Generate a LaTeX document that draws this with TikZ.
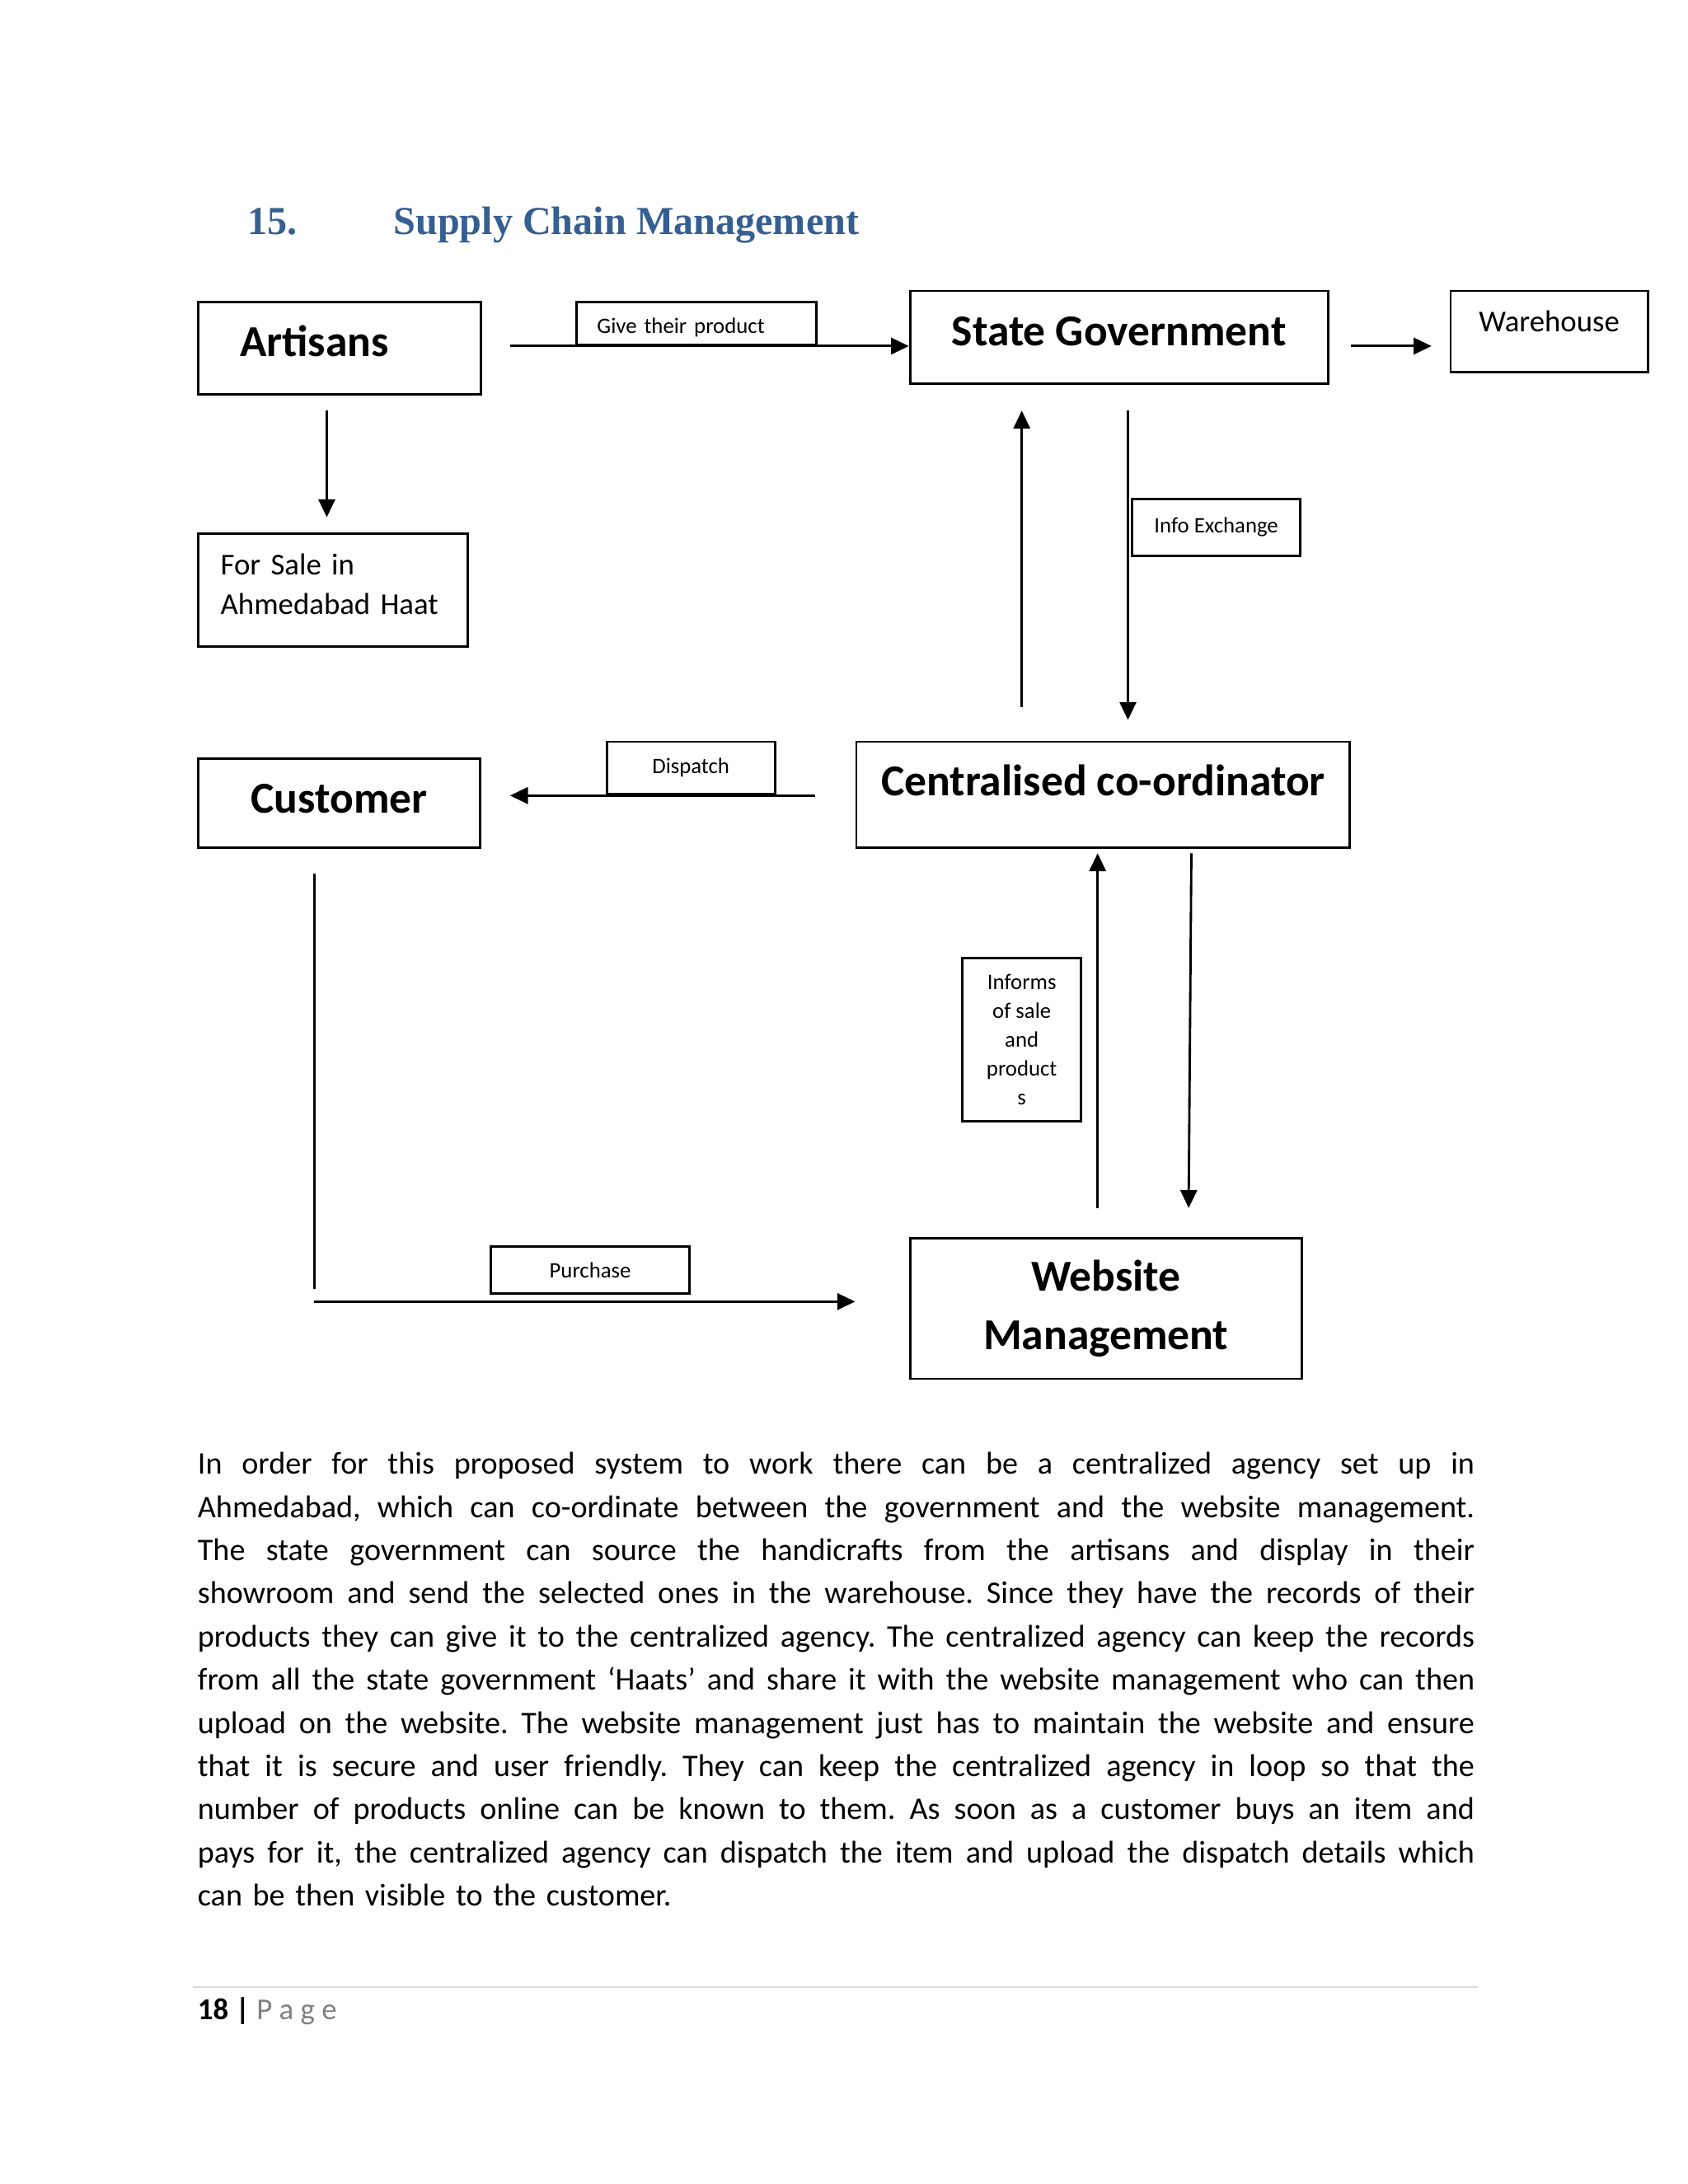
\documentclass[tikz,border=0pt]{standalone}
\usepackage{fontspec}
\usepackage{tikz}
\usetikzlibrary{arrows.meta}
\setmainfont{Carlito}
\newfontfamily\headfont{Liberation Serif}
\definecolor{headblue}{RGB}{54,95,145}
\definecolor{pagegray}{RGB}{127,127,127}
\definecolor{rulegray}{RGB}{217,217,217}
\newcommand{\bigfont}{\fontsize{16}{21}\bfseries\selectfont}
\newcommand{\midfont}{\fontsize{11}{14.5}\selectfont}
\newcommand{\tinyfont}{\fontsize{8}{10.5}\selectfont}
\newcommand{\jline}[1]{{\spaceskip=\fontdimen2\font plus 1fil\xspaceskip=\spaceskip\makebox[463pt][s]{#1}}}
\tikzset{
  box/.style={draw, line width=0.85pt, inner sep=0pt},
  arr/.style={line width=0.85pt, -{Triangle[length=6.5pt,width=6pt]}},
  plain/.style={line width=0.85pt}
}
\begin{document}
\begin{tikzpicture}[x=0.5pt,y=-0.5pt]
       \useasboundingbox (0,0) rectangle (1224,1584);
       \node[anchor=base west, inner sep=0pt, font=\headfont\fontsize{14.4}{17}\bfseries\selectfont, text=headblue] (tnum) at (179,170) {15.};
       \node[anchor=base west, inner sep=0pt, font=\headfont\fontsize{14.4}{17}\bfseries\selectfont, text=headblue] (ttl) at (285,170) {Supply Chain Management};
       \node[box, minimum width=102.5pt, minimum height=33.5pt, text width=72.5pt, align=left, text depth=5pt, font=\bigfont] (art) at (246.5,252.5) {Artisans};
       \node[box, minimum width=151.5pt, minimum height=33.5pt, text depth=4.5pt, font=\bigfont] (sg) at (811.5,244.5) {State Government};
       \node[box, minimum width=71.5pt, minimum height=29.5pt, text depth=7.5pt, font=\midfont] (wh) at (1123.5,240.5) {Warehouse};
       \node[box, minimum width=97.5pt, minimum height=41pt, text width=81.5pt, align=left, text depth=19pt, font=\midfont] (fs) at (241.5,428) {For Sale in\\Ahmedabad Haat};
       \node[box, minimum width=87pt, minimum height=15.5pt, text width=72pt, align=left, text height=7.5pt, text depth=0pt, font=\tinyfont] (gtp) at (505,234.5) {Give their product};
       \node[box, minimum width=61pt, minimum height=20.5pt, font=\tinyfont] (ie) at (882,382.5) {Info Exchange};
       \node[box, minimum width=179pt, minimum height=38.5pt, text depth=10.5pt, font=\bigfont] (cc) at (800,576.5) {Centralised co-ordinator};
       \node[box, minimum width=61pt, minimum height=19pt, font=\tinyfont] (dp) at (501,557) {Dispatch};
       \node[box, minimum width=102pt, minimum height=32.5pt, text depth=3.5pt, font=\bigfont] (cu) at (246,582.5) {Customer};
       \node[box, minimum width=43pt, minimum height=59pt, align=center, font=\tinyfont] (inf) at (741,754) {Informs\\of sale\\and\\product\\s};
       \node[box, minimum width=72pt, minimum height=17pt, font=\tinyfont] (pu) at (428,921) {Purchase};
       \node[box, minimum width=142pt, minimum height=51pt, align=center, font=\bigfont] (wm) at (802,949) {Website\\Management};
       \coordinate (pk1) at (228,935);
       \coordinate (pk2) at (228,944);
       \draw[arr] ([shift={(20,-1.5)}]art.east) -- ([shift={(0,6.5)}]sg.west);
       \draw[arr] ([shift={(16,6.5)}]sg.east) -- ([shift={(-13,10.5)}]wh.west);
       \draw[arr] ([shift={(-9.5,11)}]art.south) -- ([shift={(-4.5,-11)}]fs.north);
       \draw[arr] ([shift={(-59,-24)}]cc.north) -- ([shift={(-70.5,19)}]sg.south);
       \draw[arr] ([shift={(6.5,19)}]sg.south) -- ([shift={(18,-15)}]cc.north);
       \draw[arr] ([shift={(-29,0.5)}]cc.west) -- ([shift={(21,-5.5)}]cu.east);
       \draw[plain] ([shift={(-18,18)}]cu.south) -- (pk1);
       \draw[arr] (pk2) -- ([shift={(-39,-5)}]wm.west);
       \draw[arr] ([shift={(-6,-21)}]wm.north) -- ([shift={(-4,3)}]cc.south);
       \draw[arr] ([shift={(64,3)}]cc.south) -- ([shift={(60,-21)}]wm.north);
       \node[anchor=north west, inner sep=0pt, text width=463pt, font=\fontsize{11.4}{15.65}\selectfont\frenchspacing] (body) at (143,1053) {%
\jline{In order for this proposed system to work there can be a centralized agency set up in}\\
\jline{Ahmedabad, which can co-ordinate between the government and the website management.}\\
\jline{The state government can source the handicrafts from the artisans and display in their}\\
\jline{showroom and send the selected ones in the warehouse. Since they have the records of their}\\
\jline{products they can give it to the centralized agency. The centralized agency can keep the records}\\
\jline{from all the state government ‘Haats’ and share it with the website management who can then}\\
\jline{upload on the website. The website management just has to maintain the website and ensure}\\
\jline{that it is secure and user friendly. They can keep the centralized agency in loop so that the}\\
\jline{number of products online can be known to them. As soon as a customer buys an item and}\\
\jline{pays for it, the centralized agency can dispatch the item and upload the dispatch details which}\\
can be then visible to the customer.};
       \draw[rulegray, line width=0.5pt] (140,1441) -- (1072,1441);
       \node[anchor=base west, inner sep=0pt, font=\fontsize{11}{13}\selectfont] (pg) at (143,1465) {\textbf{18 |} \textcolor{pagegray}{P a g e}};
      \end{tikzpicture}
\end{document}
